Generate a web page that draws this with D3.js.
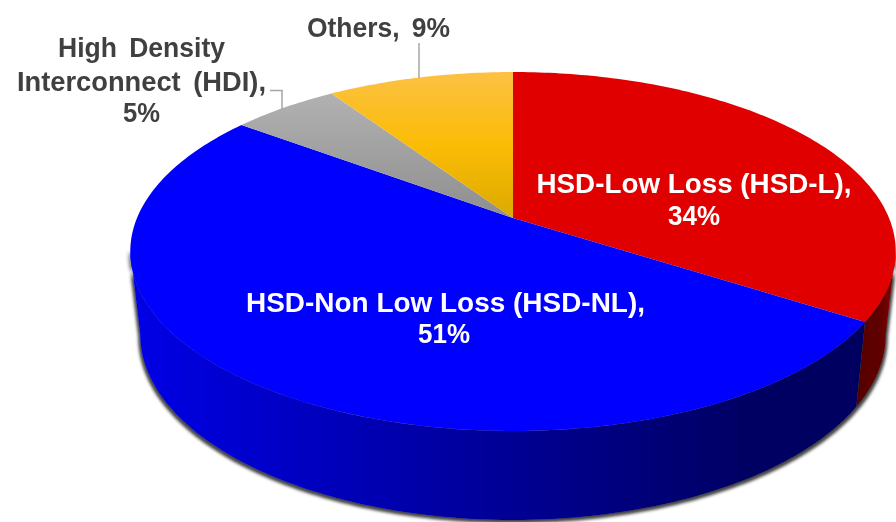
<!DOCTYPE html>
<html>
<head>
<meta charset="utf-8">
<script src="https://cdn.jsdelivr.net/npm/d3@7"></script>
<style>
  html, body { margin: 0; padding: 0; background: #fff; overflow: hidden; }
  text { font-family: "Liberation Sans", Arial, sans-serif; font-weight: bold; }
</style>
</head>
<body>
<div id="app"></div>
<script>
  const categories = ['HSD-Low Loss (HSD-L)', 'HSD-Non Low Loss (HSD-NL)', 'High Density Interconnect (HDI)', 'Others']
  const values = [34, 51, 5.4, 9.4]
  const valueLabels = ['34%', '51%', '5%', '9%']
  const topColors = ['#e00000', '#0000ff', 'url(#grayTop)', 'url(#yellowTop)']

  const w = 896
  const h = 522

  const svg = d3.select('#app')
    .append('svg')
    .attr('width', w)
    .attr('height', h)
    .style('display', 'block')

  const defs = svg.append('defs')

  const gradient = function (id, x1, y1, x2, y2, stops) {
    const g = defs.append('linearGradient')
      .attr('id', id)
      .attr('gradientUnits', 'userSpaceOnUse')
      .attr('x1', x1).attr('y1', y1).attr('x2', x2).attr('y2', y2)
    stops.forEach(s => g.append('stop').attr('offset', s[0]).attr('stop-color', s[1]))
  }
  gradient('yellowTop', 0, 72, 0, 218, [[0, '#fcc144'], [0.5, '#fbbc05'], [1, '#dcaa00']])
  gradient('grayTop', 0, 92, 0, 218, [[0, '#b2b2b2'], [1, '#8e8e8e']])
  gradient('blueSide', 135, 0, 860, 0, [[0, '#0000e6'], [0.4, '#0000a6'], [0.85, '#000062'], [1, '#000060']])
  gradient('redSide', 858, 0, 896, 0, [[0, '#540000'], [0.6, '#600000'], [1, '#8e0000']])

  // tight dark shadow hugging the wall
  const shadow = defs.append('filter')
    .attr('id', 'shadow')
    .attr('x', '-5%').attr('y', '-5%').attr('width', '110%').attr('height', '115%')
  shadow.append('feMorphology')
    .attr('in', 'SourceAlpha').attr('operator', 'dilate').attr('radius', 1.5).attr('result', 'wide')
  shadow.append('feGaussianBlur')
    .attr('in', 'wide').attr('stdDeviation', 1.8).attr('result', 'soft')
  shadow.append('feOffset')
    .attr('in', 'soft').attr('dx', 0).attr('dy', 1).attr('result', 'moved')
  shadow.append('feFlood')
    .attr('flood-color', '#444').attr('result', 'tone')
  shadow.append('feComposite')
    .attr('in', 'tone').attr('in2', 'moved').attr('operator', 'in').attr('result', 'dark')
  const merge = shadow.append('feMerge')
  merge.append('feMergeNode').attr('in', 'dark')
  merge.append('feMergeNode').attr('in', 'SourceGraphic')

  defs.append('filter')
    .attr('id', 'soften')
    .append('feGaussianBlur')
    .attr('stdDeviation', 0.35)

  // perspective of the two rims, v is depth on the unit circle
  const topRim = { cx: 513, cy: 218, rx: 376, ry: 173.2, k: 0.1866 }
  const bottomRim = { cx: 513, cy: 299.3, rx: 366, ry: 178.8, k: 0.19 }

  const project = function (rim, a) {
    const u = Math.sin(a)
    const v = Math.cos(a)
    const d = 1 + rim.k * v
    return [rim.cx + rim.rx * u / d, rim.cy - rim.ry * v / d]
  }

  const arcPoints = function (rim, a0, a1) {
    const n = Math.max(2, Math.ceil(Math.abs(a1 - a0) * 60))
    return d3.range(n + 1).map(i => project(rim, a0 + (a1 - a0) * i / n))
  }

  const line = d3.line()
  const slices = d3.pie().sort(null).value(d => d)(values)

  // side wall runs between the two tangent points of the rims
  const tangent = Math.acos(-topRim.k)
  const sideLimits = [
    { a0: tangent, a1: slices[0].endAngle, fill: 'url(#redSide)' },
    { a0: slices[1].startAngle, a1: Math.PI * 2 - tangent, fill: 'url(#blueSide)' }
  ]

  svg.append('g')
    .attr('filter', 'url(#shadow)')
    .selectAll('path')
    .data(sideLimits)
    .enter()
    .append('path')
    .attr('d', d => line(arcPoints(topRim, d.a0, d.a1).concat(arcPoints(bottomRim, d.a1, d.a0))) + 'Z')
    .attr('fill', d => d.fill)

  // top face
  svg.append('g')
    .selectAll('path')
    .data(slices)
    .enter()
    .append('path')
    .attr('d', d => line([[topRim.cx, topRim.cy]].concat(arcPoints(topRim, d.startAngle, d.endAngle))) + 'Z')
    .attr('fill', (d, i) => topColors[i])

  // leader lines
  svg.append('path')
    .attr('d', line([[419, 43], [419, 78]]))
    .attr('fill', 'none')
    .attr('stroke', '#a6a6a6')
    .attr('stroke-width', 1.5)
  svg.append('path')
    .attr('d', line([[270, 90.5], [282, 90.5], [282, 109]]))
    .attr('fill', 'none')
    .attr('stroke', '#a6a6a6')
    .attr('stroke-width', 1.5)

  const labelLines = [
    { x: 694, y: 193, fill: '#fff', text: categories[0] + ',', width: 315 },
    { x: 694, y: 225, fill: '#fff', text: valueLabels[0], width: 52 },
    { x: 445.5, y: 312, fill: '#fff', text: categories[1] + ',', width: 399 },
    { x: 444, y: 343, fill: '#fff', text: valueLabels[1], width: 52 },
    { x: 141.5, y: 57, fill: '#404040', text: 'High Density', width: 167, spacing: 5 },
    { x: 141.5, y: 91, fill: '#404040', text: 'Interconnect (HDI),', width: 249, spacing: 5 },
    { x: 141.5, y: 122, fill: '#404040', text: valueLabels[2], width: 37 },
    { x: 378.5, y: 37, fill: '#404040', text: categories[3] + ', ' + valueLabels[3], width: 143, spacing: 5 }
  ]

  svg.append('g')
    .attr('filter', 'url(#soften)')
    .selectAll('text')
    .data(labelLines)
    .enter()
    .append('text')
    .attr('x', d => d.x)
    .attr('y', d => d.y)
    .attr('text-anchor', 'middle')
    .attr('textLength', d => d.width)
    .attr('lengthAdjust', 'spacingAndGlyphs')
    .attr('fill', d => d.fill)
    .style('font-size', '27px')
    .style('word-spacing', d => (d.spacing || 0) + 'px')
    .text(d => d.text)
</script>
</body>
</html>
